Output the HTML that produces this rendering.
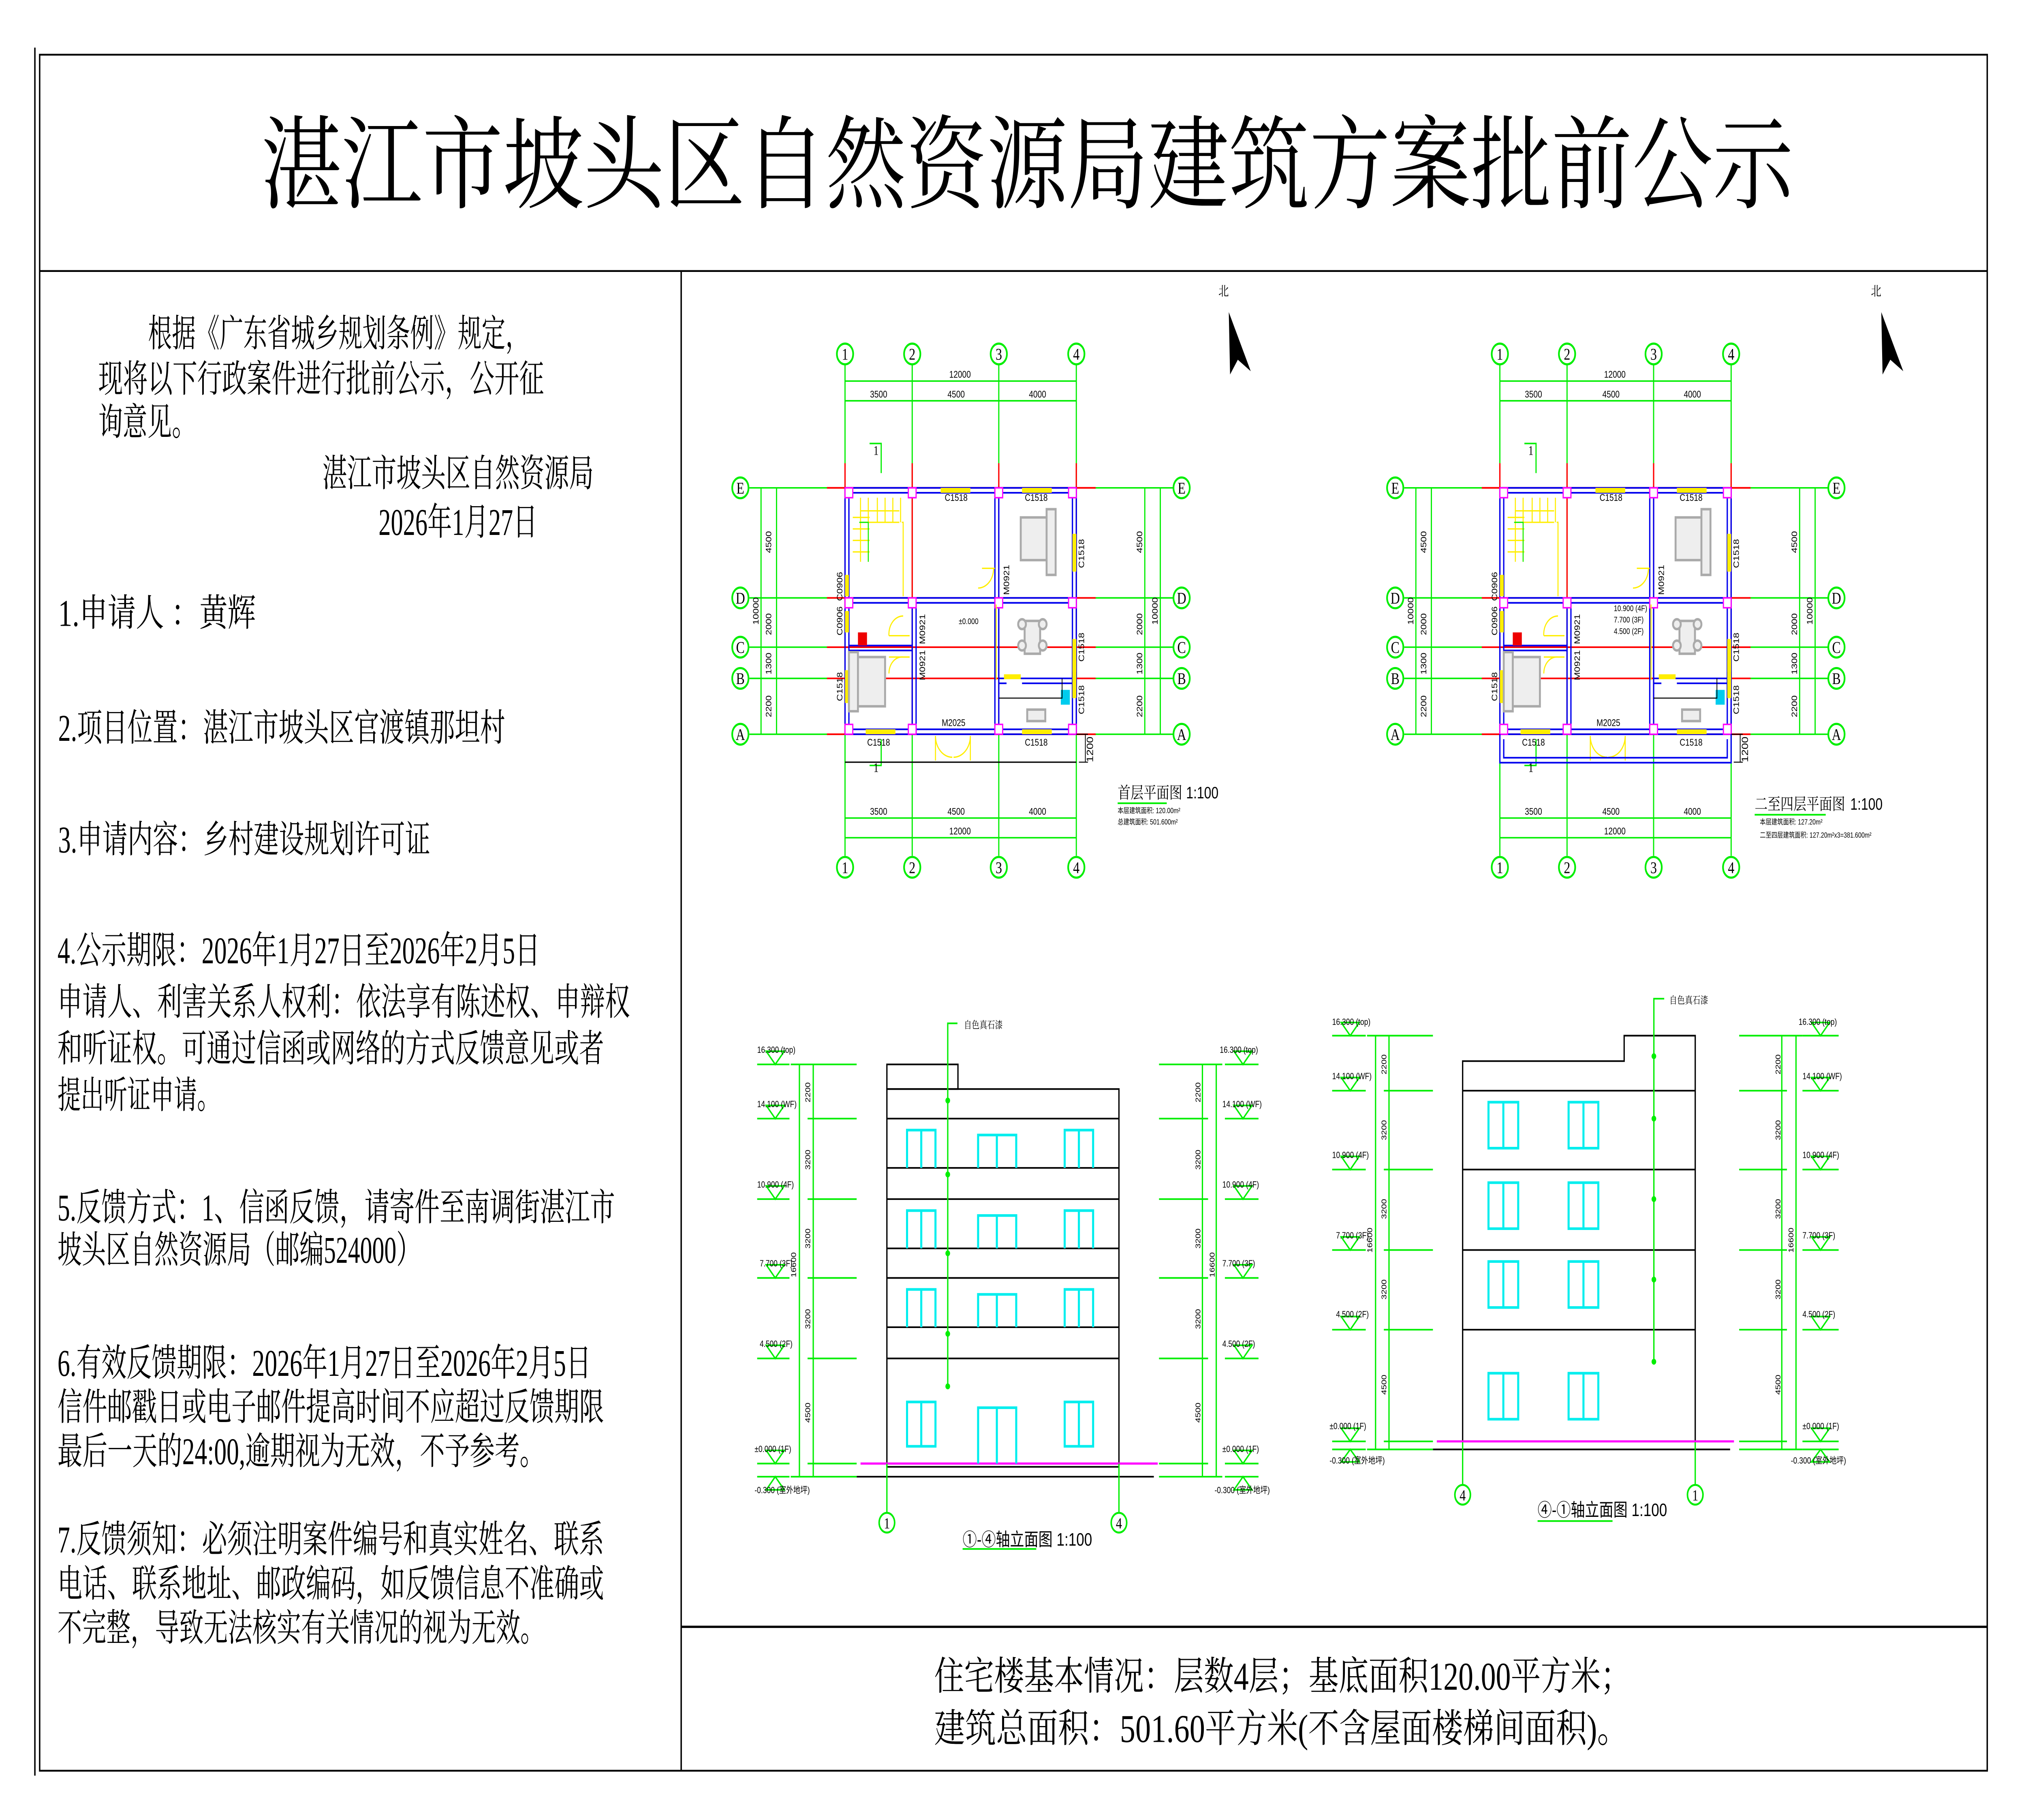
<!DOCTYPE html>
<html><head><meta charset="utf-8"><style>
html,body{margin:0;padding:0;background:#fff;overflow:hidden;width:100vw;height:100vh}
svg{display:block;width:100vw;height:100vh}
.s{font-family:"Liberation Serif","Noto Serif CJK SC",serif}
.a{font-family:"Liberation Sans","Noto Sans CJK SC",sans-serif}
</style></head><body>
<svg viewBox="0 0 1568 1108" preserveAspectRatio="none" xmlns="http://www.w3.org/2000/svg" xmlns:xlink="http://www.w3.org/1999/xlink">
<rect width="1568" height="1108" fill="#fff"/>
<g stroke="#000" fill="none" stroke-width="1.1">
<line x1="27" y1="29" x2="27" y2="1081"/>
<rect x="30.7" y="33.3" width="1507.3" height="1044.7"/>
<line x1="30.7" y1="165" x2="1538" y2="165"/>
<line x1="527.2" y1="165" x2="527.2" y2="1078"/>
<line x1="527.2" y1="990.4" x2="1538" y2="990.4" stroke-width="1.4"/>
</g>
<text class="s" x="202" y="122" font-size="62" textLength="1186" lengthAdjust="spacingAndGlyphs">湛江市坡头区自然资源局建筑方案批前公示</text>
<g class="s" font-size="23" fill="#000">
<text x="114.6" y="211" textLength="295" lengthAdjust="spacingAndGlyphs">根据《广东省城乡规划条例》规定，</text>
<text x="76" y="238.6" textLength="345" lengthAdjust="spacingAndGlyphs">现将以下行政案件进行批前公示，公开征</text>
<text x="76" y="264.8" textLength="76" lengthAdjust="spacingAndGlyphs">询意见。</text>
<text x="249.5" y="296" textLength="210" lengthAdjust="spacingAndGlyphs">湛江市坡头区自然资源局</text>
<text x="293" y="325.7" textLength="123" lengthAdjust="spacingAndGlyphs">2026年1月27日</text>
<text x="45" y="381" textLength="153" lengthAdjust="spacingAndGlyphs">1.申请人  ：黄辉</text>
<text x="45" y="451" textLength="346" lengthAdjust="spacingAndGlyphs">2.项目位置：湛江市坡头区官渡镇那坦村</text>
<text x="45" y="519" textLength="288" lengthAdjust="spacingAndGlyphs">3.申请内容：乡村建设规划许可证</text>
<text x="44.5" y="586.5" textLength="373.5" lengthAdjust="spacingAndGlyphs">4.公示期限：2026年1月27日至2026年2月5日</text>
<text x="44.5" y="617.9" textLength="443" lengthAdjust="spacingAndGlyphs">申请人、利害关系人权利：依法享有陈述权、申辩权</text>
<text x="44.5" y="646.3" textLength="423" lengthAdjust="spacingAndGlyphs">和听证权。可通过信函或网络的方式反馈意见或者</text>
<text x="44.5" y="674.7" textLength="126" lengthAdjust="spacingAndGlyphs">提出听证申请。</text>
<text x="44.5" y="743" textLength="431.5" lengthAdjust="spacingAndGlyphs">5.反馈方式：1、信函反馈，请寄件至南调街湛江市</text>
<text x="44.5" y="768.8" textLength="281" lengthAdjust="spacingAndGlyphs">坡头区自然资源局（邮编524000）</text>
<text x="44.5" y="837.6" textLength="413" lengthAdjust="spacingAndGlyphs">6.有效反馈期限：2026年1月27日至2026年2月5日</text>
<text x="44.5" y="864.5" textLength="423" lengthAdjust="spacingAndGlyphs">信件邮戳日或电子邮件提高时间不应超过反馈期限</text>
<text x="44.5" y="891.4" textLength="377" lengthAdjust="spacingAndGlyphs">最后一天的24:00,逾期视为无效，不予参考。</text>
<text x="44.5" y="945" textLength="423" lengthAdjust="spacingAndGlyphs">7.反馈须知：必须注明案件编号和真实姓名、联系</text>
<text x="44.5" y="972" textLength="423" lengthAdjust="spacingAndGlyphs">电话、联系地址、邮政编码，如反馈信息不准确或</text>
<text x="44.5" y="999" textLength="377" lengthAdjust="spacingAndGlyphs">不完整，导致无法核实有关情况的视为无效。</text>
</g>
<g class="s" font-size="24">
<text x="723" y="1028.7" textLength="539" lengthAdjust="spacingAndGlyphs">住宅楼基本情况：层数4层；基底面积120.00平方米；</text>
<text x="723" y="1060.5" textLength="537" lengthAdjust="spacingAndGlyphs">建筑总面积：501.60平方米(不含屋面楼梯间面积)。</text>
</g>

<defs>
<g id="plan">
 <g stroke="#00ee00" stroke-width="0.9" fill="none">
  <line x1="654" y1="222" x2="654" y2="521"/><line x1="706" y1="222" x2="706" y2="521"/>
  <line x1="773" y1="222" x2="773" y2="521"/><line x1="833" y1="222" x2="833" y2="521"/>
  <line x1="580" y1="297" x2="908" y2="297"/><line x1="580" y1="364" x2="908" y2="364"/>
  <line x1="580" y1="394" x2="908" y2="394"/><line x1="580" y1="413" x2="908" y2="413"/>
  <line x1="580" y1="447" x2="908" y2="447"/>
  <line x1="654" y1="232" x2="833" y2="232"/><line x1="654" y1="244" x2="833" y2="244"/>
  <line x1="654" y1="498" x2="833" y2="498"/><line x1="654" y1="510" x2="833" y2="510"/>
  <line x1="589" y1="297" x2="589" y2="447"/><line x1="601" y1="297" x2="601" y2="447"/>
  <line x1="886" y1="297" x2="886" y2="447"/><line x1="898" y1="297" x2="898" y2="447"/>
  <path d="M673 270 H682 V288 M673 466 H682 V450"/>
 </g>
 <g stroke="#ff0000" stroke-width="1" fill="none">
  <line x1="654" y1="282" x2="654" y2="447"/><line x1="706" y1="282" x2="706" y2="447"/>
  <line x1="773" y1="282" x2="773" y2="447"/><line x1="833" y1="282" x2="833" y2="447"/>
  <line x1="640" y1="297" x2="848" y2="297"/><line x1="640" y1="364" x2="848" y2="364"/>
  <line x1="640" y1="394" x2="848" y2="394"/><line x1="640" y1="413" x2="848" y2="413"/>
  <line x1="640" y1="447" x2="848" y2="447"/>
 </g>
 <g stroke="#0000ee" stroke-width="1" fill="none">
  <rect x="654" y="297" width="179" height="150"/>
  <rect x="657" y="300" width="173" height="144"/>
  <line x1="654" y1="364" x2="833" y2="364"/><line x1="654" y1="367" x2="833" y2="367"/>
  <line x1="770" y1="297" x2="770" y2="447"/><line x1="773" y1="297" x2="773" y2="447"/>
  <line x1="706" y1="367" x2="706" y2="447"/><line x1="709" y1="367" x2="709" y2="447"/>
  <line x1="657" y1="393" x2="706" y2="393"/><line x1="657" y1="396" x2="706" y2="396"/>
  <path d="M773 413 H830 M773 416 H779 M791 416 H830"/>
 </g>
 <g stroke="#ff00ff" stroke-width="0.9" fill="#fff">
  <rect x="654" y="297" width="6" height="6"/><rect x="703" y="297" width="6" height="6"/><rect x="770" y="297" width="6" height="6"/><rect x="827" y="297" width="6" height="6"/>
  <rect x="654" y="364" width="6" height="6"/><rect x="703" y="364" width="6" height="6"/><rect x="770" y="364" width="6" height="6"/><rect x="827" y="364" width="6" height="6"/>
  <rect x="654" y="441" width="6" height="6"/><rect x="703" y="441" width="6" height="6"/><rect x="770" y="441" width="6" height="6"/><rect x="827" y="441" width="6" height="6"/>
 </g>
 <g stroke="#ffee00" stroke-width="3" fill="none">
  <line x1="728" y1="298.5" x2="751" y2="298.5"/><line x1="791" y1="298.5" x2="814" y2="298.5"/>
  <line x1="670" y1="445.5" x2="693" y2="445.5"/><line x1="791" y1="445.5" x2="814" y2="445.5"/>
  <line x1="831.5" y1="325" x2="831.5" y2="348"/><line x1="831.5" y1="402" x2="831.5" y2="425"/><line x1="831.5" y1="389" x2="831.5" y2="409"/>
  <line x1="655.5" y1="350" x2="655.5" y2="363"/><line x1="655.5" y1="372" x2="655.5" y2="385"/><line x1="655.5" y1="408" x2="655.5" y2="428"/>
  <line x1="777" y1="412" x2="790" y2="412"/>
 </g>
 <g stroke="#ffee00" stroke-width="0.8" fill="none">
  <path d="M666 303 V342 M672 303 V342 M666 311 H696 M666 318 H696 M672 303 V331 M660 315 H673 M660 322 H673 M660 329 H673 M660 336 H673 M679 303 V318 M685 303 V318 M691 303 V318 M697 303 V318 M698 318 H699 V363"/>
  <path d="M769 346 A12 12 0 0 1 757 358 M770 346 H760"/>
  <path d="M699 375 A11 11 0 0 0 688 387 M688 387 H704 M699 400 A10 10 0 0 0 688 410 M688 400 H704"/>
  <path d="M724 448 A13 13 0 0 0 737 461 M751 448 A13 13 0 0 1 738 461 M724 448 V463 M751 448 V463"/>
  <path d="M771 368 V414"/>
 </g>
 <path d="M665 318 H672 V342" stroke="#00ee00" stroke-width="0.7" fill="none"/>
 <g stroke="#aaaaaa" stroke-width="1.5" fill="#eeeeee">
  <rect x="790" y="315" width="25" height="26"/><rect x="810" y="310" width="7" height="40"/>
  <rect x="660" y="400" width="25" height="30"/><rect x="657" y="397" width="7" height="36"/>
  <rect x="793" y="378" width="12" height="20"/><circle cx="791" cy="380" r="3"/><circle cx="807" cy="380" r="3"/><circle cx="791" cy="393" r="3"/><circle cx="807" cy="393" r="3"/>
  <rect x="795" y="432" width="14" height="7"/>
 </g>
 <rect x="664" y="385" width="7" height="8" fill="#ee0000"/>
 <rect x="821" y="420" width="7" height="9" fill="#00ccee"/>
 <path d="M773 425 H822 V413" stroke="#000" stroke-width="0.6" fill="none"/>
 <g stroke="#00ee00" stroke-width="1.3" fill="#fff">
  <circle cx="654" cy="215.5" r="6.3"/><circle cx="706" cy="215.5" r="6.3"/><circle cx="773" cy="215.5" r="6.3"/><circle cx="833" cy="215.5" r="6.3"/>
  <circle cx="654" cy="528" r="6.3"/><circle cx="706" cy="528" r="6.3"/><circle cx="773" cy="528" r="6.3"/><circle cx="833" cy="528" r="6.3"/>
  <circle cx="573" cy="297" r="6.3"/><circle cx="573" cy="364" r="6.3"/><circle cx="573" cy="394" r="6.3"/><circle cx="573" cy="413" r="6.3"/><circle cx="573" cy="447" r="6.3"/>
  <circle cx="914.5" cy="297" r="6.3"/><circle cx="914.5" cy="364" r="6.3"/><circle cx="914.5" cy="394" r="6.3"/><circle cx="914.5" cy="413" r="6.3"/><circle cx="914.5" cy="447" r="6.3"/>
 </g>
 <g class="s" font-size="10" text-anchor="middle">
  <text x="654" y="219">1</text><text x="706" y="219">2</text><text x="773" y="219">3</text><text x="833" y="219">4</text>
  <text x="654" y="531.5">1</text><text x="706" y="531.5">2</text><text x="773" y="531.5">3</text><text x="833" y="531.5">4</text>
  <text x="573" y="300.5">E</text><text x="573" y="367.5">D</text><text x="573" y="397.5">C</text><text x="573" y="416.5">B</text><text x="573" y="450.5">A</text>
  <text x="914.5" y="300.5">E</text><text x="914.5" y="367.5">D</text><text x="914.5" y="397.5">C</text><text x="914.5" y="416.5">B</text><text x="914.5" y="450.5">A</text>
 </g>
 <g class="a" font-size="6" text-anchor="middle">
  <text x="743" y="230">12000</text><text x="680" y="242">3500</text><text x="740" y="242">4500</text><text x="803" y="242">4000</text>
  <text x="680" y="496">3500</text><text x="740" y="496">4500</text><text x="803" y="496">4000</text><text x="743" y="508">12000</text>
  <text x="740" y="305">C1518</text><text x="802" y="305">C1518</text><text x="680" y="454">C1518</text><text x="802" y="454">C1518</text><text x="738" y="442">M2025</text>
  <text transform="translate(597,330) rotate(-90)">4500</text><text transform="translate(597,380) rotate(-90)">2000</text>
  <text transform="translate(597,404) rotate(-90)">1300</text><text transform="translate(597,430) rotate(-90)">2200</text>
  <text transform="translate(587,372) rotate(-90)">10000</text>
  <text transform="translate(884,330) rotate(-90)">4500</text><text transform="translate(884,380) rotate(-90)">2000</text>
  <text transform="translate(884,404) rotate(-90)">1300</text><text transform="translate(884,430) rotate(-90)">2200</text>
  <text transform="translate(896,372) rotate(-90)">10000</text>
  <text transform="translate(839,337) rotate(-90)">C1518</text><text transform="translate(839,394) rotate(-90)">C1518</text><text transform="translate(839,426) rotate(-90)">C1518</text>
  <text transform="translate(652,418) rotate(-90)">C1518</text><text transform="translate(652,357) rotate(-90)">C0906</text><text transform="translate(652,378) rotate(-90)">C0906</text>
  <text transform="translate(781,353) rotate(-90)">M0921</text><text transform="translate(716,383) rotate(-90)">M0921</text><text transform="translate(716,405) rotate(-90)">M0921</text>
 </g>
 <g class="s" font-size="8"><text x="676" y="277">1</text><text x="676" y="470">1</text></g>
 <path d="M833 447 H842 M840 447 V464 M835 464 H842" stroke="#000" stroke-width="0.6" fill="none"/>
 <text class="a" font-size="7" transform="translate(846,464) rotate(-90)">1200</text>
</g>
</defs>
<use xlink:href="#plan" href="#plan"/>
<use xlink:href="#plan" href="#plan" transform="translate(506.8,0)"/>
<path d="M654 464 H833" stroke="#000" stroke-width="0.8"/>
<path d="M1160.8 447 V464.3 H1339.8 V447 M1163.8 450 V461.3 H1336.8 V450" stroke="#0000ee" stroke-width="1" fill="none"/>
<g class="s" font-size="10">
<text x="865" y="486">首层平面图</text><text x="918" y="486" class="a">1:100</text>
<text x="1358" y="493">二至四层平面图</text><text x="1432" y="493" class="a">1:100</text>
</g>
<path d="M865 489 H903 M1358 496 H1413" stroke="#00ee00" stroke-width="1"/>
<g class="a" font-size="4.5"><text x="865" y="495">本层建筑面积: 120.00m²</text><text x="865" y="502">总建筑面积: 501.600m²</text>
<text x="1362" y="502">本层建筑面积: 127.20m²</text><text x="1362" y="510">二至四层建筑面积: 127.20m²x3=381.600m²</text></g>
<g class="a" font-size="5"><text x="742" y="380">±0.000</text><text x="1249" y="372">10.900 (4F)</text><text x="1249" y="379">7.700 (3F)</text><text x="1249" y="386">4.500 (2F)</text></g>
<g fill="#000"><polygon points="951,190 968,226 958,219 952,228"/><polygon points="1456,190 1473,226 1463,219 1457,228"/></g>
<g class="s" font-size="8"><text x="943" y="180">北</text><text x="1448" y="180">北</text></g>

<g stroke="#000" stroke-width="1" fill="none">
<rect x="686.4" y="648" width="55" height="15"/>
<rect x="686.4" y="663" width="179.6" height="230"/>
<line x1="686.4" y1="681" x2="866" y2="681"/><line x1="686.4" y1="711" x2="866" y2="711"/>
<line x1="686.4" y1="730" x2="866" y2="730"/><line x1="686.4" y1="760" x2="866" y2="760"/>
<line x1="686.4" y1="778" x2="866" y2="778"/><line x1="686.4" y1="808" x2="866" y2="808"/>
<line x1="686.4" y1="827" x2="866" y2="827"/>
<line x1="663" y1="899" x2="893" y2="899"/>
</g>
<line x1="666" y1="891" x2="896" y2="891" stroke="#ff00ff" stroke-width="1.3"/>
<g stroke="#00eeee" stroke-width="1.6" fill="none">
<path d="M702 711 V688 H724 V711 M713 688 V711 M757 711 V691 H786.5 V711 M771.5 691 V711 M824 711 V688 H846 V711 M835 688 V711"/>
<path d="M702 760 V737 H724 V760 M713 737 V760 M757 760 V740 H786.5 V760 M771.5 740 V760 M824 760 V737 H846 V760 M835 737 V760"/>
<path d="M702 808 V785 H724 V808 M713 785 V808 M757 808 V788 H786.5 V808 M771.5 788 V808 M824 808 V785 H846 V808 M835 785 V808"/>
<rect x="702" y="853.5" width="22" height="27"/><line x1="713" y1="853.5" x2="713" y2="880.5"/>
<rect x="824" y="853.5" width="22" height="27"/><line x1="835" y1="853.5" x2="835" y2="880.5"/>
<path d="M757 891 V857 H786.5 V891 M771.5 857 V891"/>
</g>
<g stroke="#000" stroke-width="1" fill="none">
<path d="M1132 878 V646 H1257 V630.5 H1312 V878"/>
<line x1="1132" y1="664" x2="1312" y2="664"/><line x1="1132" y1="712" x2="1312" y2="712"/>
<line x1="1132" y1="761" x2="1312" y2="761"/><line x1="1132" y1="809.5" x2="1312" y2="809.5"/>
<line x1="1109" y1="882.4" x2="1339" y2="882.4"/>
</g>
<line x1="1112" y1="877.5" x2="1342" y2="877.5" stroke="#ff00ff" stroke-width="1.3"/>
<g stroke="#00eeee" stroke-width="1.6" fill="none">
<rect x="1152" y="671" width="23" height="28"/><line x1="1163.5" y1="671" x2="1163.5" y2="699"/>
<rect x="1214" y="671" width="23" height="28"/><line x1="1225.5" y1="671" x2="1225.5" y2="699"/>
<rect x="1152" y="720" width="23" height="28"/><line x1="1163.5" y1="720" x2="1163.5" y2="748"/>
<rect x="1214" y="720" width="23" height="28"/><line x1="1225.5" y1="720" x2="1225.5" y2="748"/>
<rect x="1152" y="768" width="23" height="28"/><line x1="1163.5" y1="768" x2="1163.5" y2="796"/>
<rect x="1214" y="768" width="23" height="28"/><line x1="1225.5" y1="768" x2="1225.5" y2="796"/>
<rect x="1152" y="836" width="23" height="28"/><line x1="1163.5" y1="836" x2="1163.5" y2="864"/>
<rect x="1214" y="836" width="23" height="28"/><line x1="1225.5" y1="836" x2="1225.5" y2="864"/>
</g>

<g stroke="#00ee00" stroke-width="1" fill="none">
<path d="M741 623 H733.5 V844 M686.4 891 V923 M866 891 V923"/>
<path d="M618.7 648 V899 M629.4 648 V899 M625 648 H663 M625 681 H663 M625 730 H663 M625 778 H663 M625 827 H663 M625 891 H663 M625 899 H663 M612 648 H625 M612 899 H625"/>
<path d="M930.6 648 V899 M941.3 648 V899 M897 648 H935 M897 681 H935 M897 730 H935 M897 778 H935 M897 827 H935 M897 891 H935 M897 899 H935 M935 648 H946 M935 899 H946"/>
<path d="M1288 608 H1280 V829 M1132 878 V905 M1312 878 V905"/>
<path d="M1064.6 630.5 V882.4 M1075 630.5 V882.4 M1071 630.5 H1109 M1071 664 H1109 M1071 712 H1109 M1071 761 H1109 M1071 809.5 H1109 M1071 877.5 H1109 M1071 882.4 H1109 M1058 630.5 H1071 M1058 882.4 H1071"/>
<path d="M1379 630.5 V882.4 M1390 630.5 V882.4 M1346 630.5 H1383 M1346 664 H1383 M1346 712 H1383 M1346 761 H1383 M1346 809.5 H1383 M1346 877.5 H1383 M1346 882.4 H1383 M1383 630.5 H1395 M1383 882.4 H1395"/>
<path d="M745 943 H802 M1190 926 H1248"/>
</g>
<g fill="#00ee00"><circle cx="733.5" cy="670" r="1.8"/><circle cx="733.5" cy="715" r="1.8"/><circle cx="733.5" cy="763" r="1.8"/><circle cx="733.5" cy="812" r="1.8"/><circle cx="733.5" cy="844" r="1.8"/>
<circle cx="1280" cy="643" r="1.8"/><circle cx="1280" cy="681" r="1.8"/><circle cx="1280" cy="730" r="1.8"/><circle cx="1280" cy="779" r="1.8"/><circle cx="1280" cy="829" r="1.8"/></g>
<g stroke="#00ee00" stroke-width="1" fill="none">
<path d="M586 648 H611 M593 640 L600 648 L607 640 Z M586 681 H611 M593 673 L600 681 L607 673 Z M586 730 H611 M593 722 L600 730 L607 722 Z M586 778 H611 M593 770 L600 778 L607 770 Z M586 827 H611 M593 819 L600 827 L607 819 Z M586 891 H611 M593 883 L600 891 L607 883 Z M586 899 H611 M593 907 L600 899 L607 907 Z"/>
<path d="M948 648 H974 M955 640 L962 648 L969 640 Z M948 681 H974 M955 673 L962 681 L969 673 Z M948 730 H974 M955 722 L962 730 L969 722 Z M948 778 H974 M955 770 L962 778 L969 770 Z M948 827 H974 M955 819 L962 827 L969 819 Z M948 891 H974 M955 883 L962 891 L969 883 Z M948 899 H974 M955 907 L962 899 L969 907 Z"/>
<path d="M1031 630.5 H1057 M1038 622.5 L1045 630.5 L1052 622.5 Z M1031 664 H1057 M1038 656 L1045 664 L1052 656 Z M1031 712 H1057 M1038 704 L1045 712 L1052 704 Z M1031 761 H1057 M1038 753 L1045 761 L1052 753 Z M1031 809.5 H1057 M1038 801.5 L1045 809.5 L1052 801.5 Z M1031 877.5 H1057 M1038 869.5 L1045 877.5 L1052 869.5 Z M1031 882.4 H1057 M1038 890 L1045 882.4 L1052 890 Z"/>
<path d="M1395 630.5 H1423 M1402 622.5 L1409 630.5 L1416 622.5 Z M1395 664 H1423 M1402 656 L1409 664 L1416 656 Z M1395 712 H1423 M1402 704 L1409 712 L1416 704 Z M1395 761 H1423 M1402 753 L1409 761 L1416 753 Z M1395 809.5 H1423 M1402 801.5 L1409 809.5 L1416 801.5 Z M1395 877.5 H1423 M1402 869.5 L1409 877.5 L1416 869.5 Z M1395 882.4 H1423 M1402 890 L1409 882.4 L1416 890 Z"/>
</g>
<g class="a" font-size="5.5">
<text x="586" y="641">16.300 (top)</text><text x="586" y="674">14.100 (WF)</text><text x="586" y="723">10.900 (4F)</text><text x="588" y="771">7.700 (3F)</text><text x="588" y="820">4.500 (2F)</text><text x="584" y="884">±0.000 (1F)</text><text x="584" y="909">-0.300 (室外地坪)</text>
<text x="944" y="641">16.300 (top)</text><text x="946" y="674">14.100 (WF)</text><text x="946" y="723">10.900 (4F)</text><text x="946" y="771">7.700 (3F)</text><text x="946" y="820">4.500 (2F)</text><text x="946" y="884">±0.000 (1F)</text><text x="940" y="909">-0.300 (室外地坪)</text>
<text x="1031" y="624">16.300 (top)</text><text x="1031" y="657">14.100 (WF)</text><text x="1031" y="705">10.900 (4F)</text><text x="1034" y="754">7.700 (3F)</text><text x="1034" y="802">4.500 (2F)</text><text x="1029" y="870">±0.000 (1F)</text><text x="1029" y="891">-0.300 (室外地坪)</text>
<text x="1392" y="624">16.300 (top)</text><text x="1395" y="657">14.100 (WF)</text><text x="1395" y="705">10.900 (4F)</text><text x="1395" y="754">7.700 (3F)</text><text x="1395" y="802">4.500 (2F)</text><text x="1395" y="870">±0.000 (1F)</text><text x="1386" y="891">-0.300 (室外地坪)</text>
</g>
<g class="a" font-size="5.5" text-anchor="middle">
<text transform="translate(627,665) rotate(-90)">2200</text><text transform="translate(627,706) rotate(-90)">3200</text><text transform="translate(627,754) rotate(-90)">3200</text><text transform="translate(627,803) rotate(-90)">3200</text><text transform="translate(627,860) rotate(-90)">4500</text><text transform="translate(616,770) rotate(-90)">16600</text>
<text transform="translate(929,665) rotate(-90)">2200</text><text transform="translate(929,706) rotate(-90)">3200</text><text transform="translate(929,754) rotate(-90)">3200</text><text transform="translate(929,803) rotate(-90)">3200</text><text transform="translate(929,860) rotate(-90)">4500</text><text transform="translate(940,770) rotate(-90)">16600</text>
<text transform="translate(1073,648) rotate(-90)">2200</text><text transform="translate(1073,688) rotate(-90)">3200</text><text transform="translate(1073,736) rotate(-90)">3200</text><text transform="translate(1073,785) rotate(-90)">3200</text><text transform="translate(1073,843) rotate(-90)">4500</text><text transform="translate(1062,755) rotate(-90)">16600</text>
<text transform="translate(1378,648) rotate(-90)">2200</text><text transform="translate(1378,688) rotate(-90)">3200</text><text transform="translate(1378,736) rotate(-90)">3200</text><text transform="translate(1378,785) rotate(-90)">3200</text><text transform="translate(1378,843) rotate(-90)">4500</text><text transform="translate(1388,755) rotate(-90)">16600</text>
</g>
<g class="s" font-size="6"><text x="746" y="626">自色真石漆</text><text x="1292" y="611">自色真石漆</text></g>
<g stroke="#00ee00" stroke-width="1.2" fill="#fff">
<circle cx="686.4" cy="927" r="6"/><circle cx="866" cy="927" r="6"/><circle cx="1132" cy="910" r="6"/><circle cx="1312" cy="910" r="6"/>
</g>
<g class="s" font-size="9.5" text-anchor="middle"><text x="686.4" y="930.5">1</text><text x="866" y="930.5">4</text><text x="1132" y="913.5">4</text><text x="1312" y="913.5">1</text></g>
<g class="a" font-size="11"><text x="745" y="941">①-④轴立面图 1:100</text><text x="1190" y="923">④-①轴立面图 1:100</text></g>
</svg>
</body></html>
